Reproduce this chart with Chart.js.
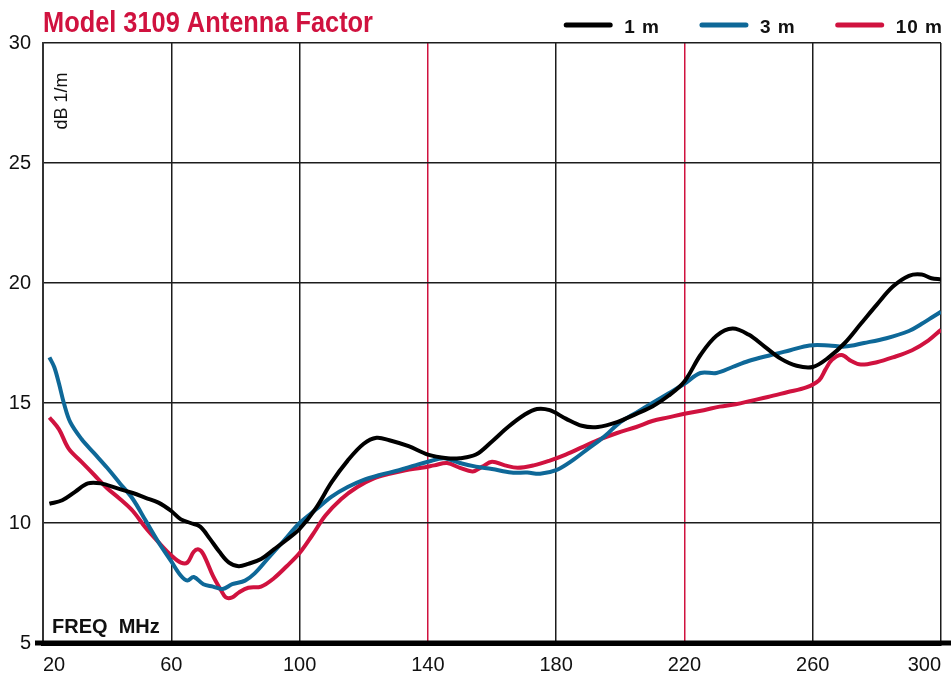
<!DOCTYPE html>
<html>
<head>
<meta charset="utf-8">
<title>Model 3109 Antenna Factor</title>
<script src="https://cdn.jsdelivr.net/npm/chart.js@4/dist/chart.umd.min.js"></script>
<style>
  html, body { margin: 0; padding: 0; background: #fff; }
  #wrap { position: relative; width: 951px; height: 681px; }
</style>
</head>
<body>
<div id="wrap"><canvas id="antenna"></canvas></div>
<script>
// axis ticks
const freqTicks = [20, 60, 100, 140, 180, 220, 260, 300];
const dbTicks = [5, 10, 15, 20, 25, 30];

// 1 m
const freq1m = [22, 26, 30, 34, 38, 43, 48, 52, 56, 60, 63, 66, 69, 72, 75, 78, 81, 84, 88, 92, 96, 100,
  105, 110, 115, 120, 124, 128, 134, 140, 146, 150, 155, 160, 165, 170, 174, 178, 183, 188, 193, 199,
  205, 210, 215, 220, 225, 230, 235, 240, 245, 250, 255, 260, 265, 270, 275, 280, 285, 290, 294, 297, 300];
const af1m = [10.8, 10.95, 11.3, 11.65, 11.65, 11.45, 11.25, 11.05, 10.85, 10.5, 10.15, 10.0, 9.85, 9.35, 8.8, 8.35, 8.2, 8.3, 8.5, 8.9, 9.3, 9.75,
  10.6, 11.7, 12.6, 13.3, 13.55, 13.45, 13.2, 12.85, 12.7, 12.7, 12.85, 13.4, 14.0, 14.5, 14.75, 14.7, 14.35, 14.05, 14.0, 14.2,
  14.55, 14.85, 15.3, 15.9, 17.0, 17.8, 18.1, 17.85, 17.35, 16.85, 16.55, 16.5, 16.9, 17.5, 18.3, 19.1, 19.85, 20.3, 20.35, 20.2, 20.15];

// 3 m
const freq3m = [22, 23.5, 25, 26.5, 28.5, 32, 36, 40, 44, 48, 52, 56, 60, 63, 65, 67, 70, 73, 76, 79, 83, 86, 90, 95, 100,
  105, 110, 115, 120, 125, 131, 136, 140, 145, 150, 155, 160, 166, 171, 175, 180, 185, 190, 195, 200,
  205, 210, 215, 220, 225, 230, 235, 240, 247, 253, 259, 265, 270, 276, 283, 290, 294, 297, 300];
const af3m = [16.9, 16.5, 15.8, 15.0, 14.2, 13.5, 12.9, 12.3, 11.65, 11.0, 10.1, 9.2, 8.4, 7.8, 7.6, 7.75, 7.45, 7.35, 7.25, 7.45, 7.6, 7.9, 8.5, 9.25, 10.0,
  10.55, 11.1, 11.5, 11.8, 12.0, 12.2, 12.4, 12.55, 12.7, 12.5, 12.35, 12.25, 12.1, 12.1, 12.05, 12.2, 12.6, 13.1, 13.6, 14.2,
  14.6, 15.0, 15.4, 15.8, 16.25, 16.25, 16.5, 16.75, 17.0, 17.2, 17.4, 17.4, 17.35, 17.5, 17.7, 18.0, 18.3, 18.55, 18.8];

// 10 m
const freq10m = [22, 25, 28, 32, 36, 40, 44, 48, 52, 56, 60, 63, 65, 67, 68.5, 70, 73, 75.5, 77, 79, 81, 84, 88, 92, 96, 100,
  104, 108, 113, 118, 123, 128, 133, 138, 142, 146, 150, 154, 157, 160, 164, 168, 173, 178, 183, 188, 193, 199,
  205, 210, 215, 220, 226, 231, 236, 241, 246, 252, 258, 262, 264, 266, 269, 272, 275, 280, 285, 291, 296, 300];
const af10m = [14.4, 13.9, 13.1, 12.55, 12.0, 11.45, 11.0, 10.5, 9.8, 9.2, 8.65, 8.35, 8.35, 8.8, 8.9, 8.7, 7.8, 7.2, 6.9, 6.9, 7.1, 7.3, 7.35, 7.7, 8.2, 8.75,
  9.5, 10.3, 11.0, 11.5, 11.85, 12.05, 12.2, 12.3, 12.4, 12.5, 12.3, 12.15, 12.35, 12.55, 12.4, 12.3, 12.4, 12.6, 12.85, 13.15, 13.45, 13.75,
  14.0, 14.25, 14.4, 14.55, 14.7, 14.85, 14.95, 15.1, 15.25, 15.45, 15.65, 15.95, 16.4, 16.8, 17.0, 16.75, 16.6, 16.7, 16.9, 17.2, 17.6, 18.05];

const RED = '#d0123f';
const BLUE = '#0e6898';
const GRID = '#1c1c1c';
const FONT = "'Liberation Sans', Arial, sans-serif";

function pts(xs, ys) {
    return xs.map((x, i) => ({ x: x, y: ys[i] }));
}

// title, legend and the labels inside the plot
const decor = {
    id: 'decor',
    afterDraw(chart) {
        const ctx = chart.ctx;
        const a = chart.chartArea;
        ctx.save();

        // thick base line runs a bit past the left edge
        ctx.strokeStyle = '#000';
        ctx.lineWidth = 5;
        ctx.beginPath();
        ctx.moveTo(a.left - 8, a.bottom);
        ctx.lineTo(chart.width, a.bottom);
        ctx.stroke();

        ctx.fillStyle = RED;
        ctx.font = 'bold 29px ' + FONT;
        ctx.textAlign = 'left';
        ctx.textBaseline = 'alphabetic';
        ctx.fillText('Model 3109 Antenna Factor', a.left, 32, 330);

        // legend, laid out from the right
        ctx.font = 'bold 19px ' + FONT;
        ctx.letterSpacing = '1px';
        ctx.lineCap = 'round';
        let x = a.right + 2;
        const sets = chart.data.datasets;
        for (let i = sets.length - 1; i >= 0; i--) {
            const w = ctx.measureText(sets[i].label).width;
            x -= w;
            ctx.fillStyle = '#111';
            ctx.fillText(sets[i].label, x, 33);
            ctx.strokeStyle = sets[i].borderColor;
            ctx.lineWidth = 5;
            ctx.beginPath();
            ctx.moveTo(x - 58, 25);
            ctx.lineTo(x - 14, 25);
            ctx.stroke();
            x -= 100;
        }
        ctx.letterSpacing = '0px';

        ctx.fillStyle = '#111';
        ctx.font = 'bold 20px ' + FONT;
        ctx.fillText('FREQ  MHz', a.left + 9, a.bottom - 10);

        ctx.font = '18px ' + FONT;
        ctx.translate(a.left + 19, a.top + 58);
        ctx.rotate(-Math.PI / 2);
        ctx.textAlign = 'center';
        ctx.textBaseline = 'middle';
        ctx.fillText('dB 1/m', 0, 0);
        ctx.restore();
    }
};

new Chart(document.getElementById('antenna'), {
    type: 'line',
    data: {
        datasets: [{
            label: '1 m',
            data: pts(freq1m, af1m),
            borderColor: '#000',
            backgroundColor: '#000',
            borderWidth: 4,
            pointRadius: 0,
            tension: 0.35
        }, {
            label: '3 m',
            data: pts(freq3m, af3m),
            borderColor: BLUE,
            backgroundColor: BLUE,
            borderWidth: 4,
            pointRadius: 0,
            tension: 0.35
        }, {
            label: '10 m',
            data: pts(freq10m, af10m),
            borderColor: RED,
            backgroundColor: RED,
            borderWidth: 4,
            pointRadius: 0,
            tension: 0.35
        }]
    },
    options: {
        responsive: true,
        maintainAspectRatio: false,
        animation: false,
        layout: {
            padding: { top: 43, left: 9, right: 9, bottom: 4 }
        },
        plugins: {
            legend: { display: false },
            title: { display: false },
            tooltip: { enabled: false }
        },
        scales: {
            x: {
                type: 'linear',
                min: 20,
                max: 300,
                afterBuildTicks: (scale) => { scale.ticks = freqTicks.map(v => ({ value: v })); },
                afterFit: (scale) => { scale.height = 34; },
                ticks: {
                    align: 'inner',
                    padding: 10,
                    color: '#111',
                    font: { family: FONT, size: 20 }
                },
                grid: {
                    color: (c) => (c.tick && (c.tick.value === 140 || c.tick.value === 220)) ? RED : GRID,
                    lineWidth: 1.5,
                    drawTicks: false
                },
                border: { color: '#000', width: 5 }
            },
            y: {
                min: 5,
                max: 30,
                afterBuildTicks: (scale) => { scale.ticks = dbTicks.map(v => ({ value: v })); },
                afterFit: (scale) => { scale.width = 34; },
                ticks: {
                    padding: 12,
                    color: '#111',
                    font: { family: FONT, size: 20 }
                },
                grid: {
                    color: GRID,
                    lineWidth: 1.5,
                    drawTicks: false
                },
                border: { color: '#333', width: 2 }
            }
        }
    },
    plugins: [decor]
});
</script>
</body>
</html>
